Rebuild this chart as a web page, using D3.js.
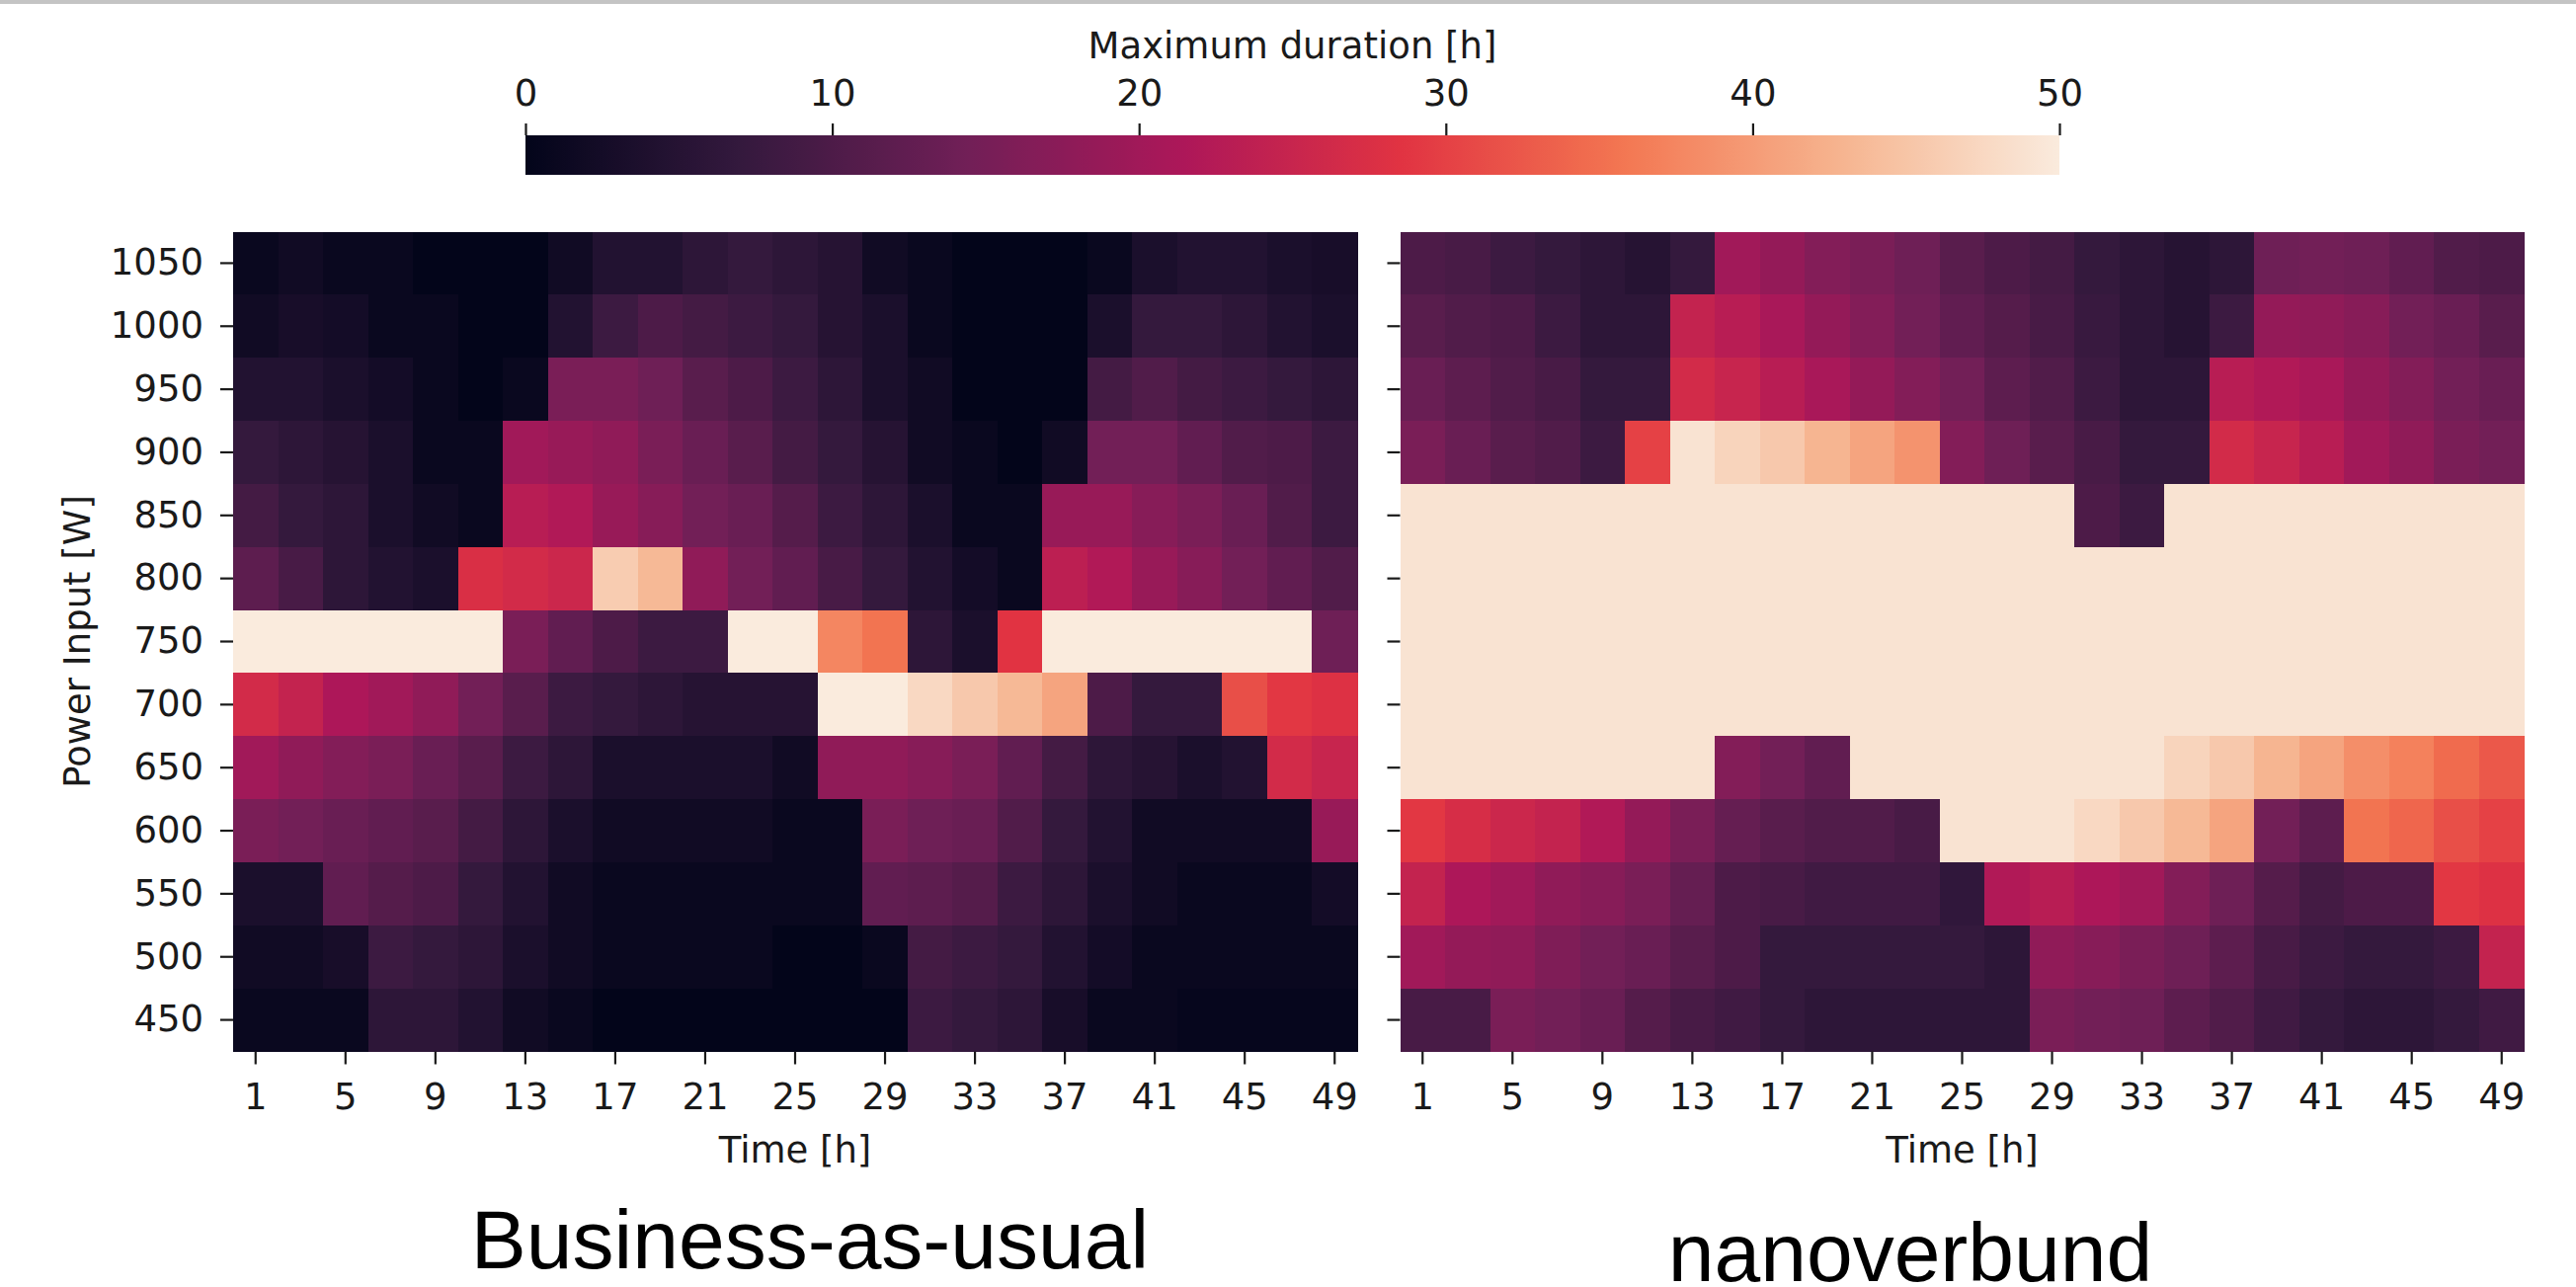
<!DOCTYPE html>
<html><head><meta charset="utf-8">
<script src="https://cdn.jsdelivr.net/npm/d3@7"></script>
<style>body{margin:0;background:#fff}svg{display:block}</style>
</head><body>
<svg id="c" width="2608" height="1303"></svg>
<script>
// ---------------- data ----------------
const timeLabels = [1,3,5,7,9,11,13,15,17,19,21,23,25,27,29,31,33,35,37,39,41,43,45,47,49];
const powerLevels = [1050,1000,950,900,850,800,750,700,650,600,550,500,450];
const cbarTicks = [0,10,20,30,40,50];

// Business-as-usual: maximum duration [h], rows = powerLevels, cols = timeLabels
const bauValues = [
  [1,2,1,1,0,0,0,2,4.5,4.5,6,7,6,5,2,1,0,0,0,1,3.5,4.5,4.5,3.5,3],
  [2,3,2.5,1,1,0,0,4.5,8,10,9,8,7,5,3.5,1,0,0,0,3.5,7,7,6,4.5,3.5],
  [4.5,4.5,3.5,2.5,1,0,1,15.5,15.5,14,11.5,10,8,6,3.5,2,0,0,0,9,10.5,9,8,7,6],
  [7,6,5,3.5,1,1,20,19,18,15.5,13.5,11.5,9,7,5,2,1,0,2,14.5,14.5,12.5,10.5,10,8],
  [9,7,6,3.5,2,1,23,22,19,17,14.5,13.5,11,8,6,3.5,1,1,19,19,17,15.5,13.5,10.5,8],
  [12,9.5,6,4.5,3.5,27.5,26.5,25.5,46,43.5,18,14.5,12.5,9.5,7,4.5,2.5,1,23.5,22,19,17,14.5,12.5,10.5],
  [50,50,50,50,50,50,15.5,12.5,10,8,8,50,50,37.5,35.5,6,3.5,28.6,50,50,50,50,50,50,14],
  [26.5,24.5,21.5,20,18,14.5,11.5,8,7,6,5,5,5,50,50,47.5,45.5,43.5,41,10,7,7,31.5,29,28],
  [20,18,16.5,15.5,13.5,11.5,8,6,3.5,3.5,3.5,3.5,2,18,18,17,15.5,12.5,9,6,5,3.5,4.5,26.5,25],
  [15.5,14.5,13.5,12.5,11.5,9,6,3.5,2,2,2,2,1,1,15.5,14,13.5,10.5,7,4.5,2,2,2,2,19],
  [3.5,3.5,12.5,11,10,7,4.5,2,1,1,1,1,1,1,12.5,12,11,8,6,3.5,2,1,1,1,2.5],
  [2,2,3,8,7,6,3.5,2,1,1,1,1,0,0,1,9,8,7,4.5,2.5,1,1,1,1,1],
  [1,1,1,6,6,4.5,2,1,0,0,0,0,0,0,0,8,7,6,3,1,1,0.5,0.5,0.5,0.5]
];

// nanoverbund: maximum duration [h]
const nanoValues = [
  [10,9.5,8,7,6,5,7,20,18.5,16.5,15.5,14,11.5,10,9,7,6,5,6,14,14.5,14,12.5,10.5,10],
  [11.5,10.5,10,8,6,6,24.5,23,21,18.5,16.5,14.5,12.5,11,9.5,7.5,6,5,8,18.5,18,17,14.5,13.5,11.5],
  [13.5,12,10.5,9.5,7,7,26.5,25,23,21,18.5,16.5,14.5,12,10.5,8,6,6,23,22,21,18.5,16.5,14.5,13.5],
  [15.5,13.5,11.5,10.5,8,30,49,47,45.5,43,41,39,16.5,14,11.5,9.5,7,7,26.5,25,23,20,18,15.5,14.5],
  [49,49,49,49,49,49,49,49,49,49,49,49,49,49,49,10,8,49,49,49,49,49,49,49,49],
  [49,49,49,49,49,49,49,49,49,49,49,49,49,49,49,49,49,49,49,49,49,49,49,49,49],
  [49,49,49,49,49,49,49,49,49,49,49,49,49,49,49,49,49,49,49,49,49,49,49,49,49],
  [49,49,49,49,49,49,49,49,49,49,49,49,49,49,49,49,49,49,49,49,49,49,49,49,49],
  [49,49,49,49,49,49,49,16.5,14.5,12.5,49,49,49,49,49,49,49,47,45.5,43,41,38.5,37,34.5,32.5],
  [29,27,25.5,24.5,22,18.5,15.5,13,11.5,10.5,10.5,9.5,49,49,49,47.5,45.5,43.5,41,14.5,12,35.5,34,31.5,30],
  [24.5,21.5,20,18,17,15.5,13,10,9.5,8.5,8.5,8.5,6.5,22,23,21.5,20,16.5,14,11,9,10,10,29,28],
  [20,18.5,18,16,14.5,13.5,11.5,10,7,7,7,7,7,6,18,17,15.5,14,12,9.5,8,7,7,8,24.5],
  [9.5,9.5,15.5,14.5,13.5,11,9.5,8.5,7,6,6,6,6,6,15.5,14.5,14,12,10.5,8.5,7,6,6,7,8.5]
];

// seaborn "rocket" colormap control points
const rocketPos = [0, 0.143, 0.286, 0.429, 0.571, 0.714, 0.857, 1];
const rocketHex = ["#03051a","#35193e","#701f57","#ad1759","#e13342","#f37651","#f6b48f","#faebdd"];

// ---------------- drawing ----------------
const svg = d3.select("#c");
const font = "'DejaVu Sans', sans-serif";
const textCol = "#1a1a1a";

svg.append("rect").attr("x",0).attr("y",0).attr("width",2608).attr("height",4).attr("fill","#c4c4c4");

const vmin = 0, vmax = 50;
const color = d3.scaleLinear()
  .domain(rocketPos.map(p => vmin + p*(vmax-vmin)))
  .range(rocketHex)
  .interpolate(d3.interpolateRgb)
  .clamp(true);

const plotTop = 234.5, plotBottom = 1064.5, panelW = 1138;
const panels = [
  {x0: 236, values: bauValues, labels: true, title: "Business-as-usual", tx: 820, ty: 1284},
  {x0: 1417.5, values: nanoValues, labels: false, title: "nanoverbund", tx: 1934, ty: 1297}
];

panels.forEach(p => {
  const x = d3.scaleBand().domain(timeLabels).range([p.x0, p.x0 + panelW]);
  const y = d3.scaleBand().domain(powerLevels).range([plotTop, plotBottom]);
  const g = svg.append("g");
  const cells = [];
  powerLevels.forEach((pw, i) => timeLabels.forEach((t, j) => cells.push({pw, t, v: p.values[i][j]})));
  g.selectAll("rect").data(cells).enter().append("rect")
    .attr("x", d => x(d.t))
    .attr("y", d => y(d.pw))
    .attr("width", x.bandwidth() + 0.6)
    .attr("height", y.bandwidth() + 0.6)
    .attr("fill", d => color(d.v))
    .attr("shape-rendering", "crispEdges");

  // y axis
  const ya = svg.append("g").attr("transform", `translate(${p.x0},0)`)
    .call(d3.axisLeft(y).tickSize(13).tickPadding(17).tickFormat(p.labels ? d => d : () => ""));
  ya.select(".domain").remove();
  ya.selectAll("line").attr("stroke", textCol).attr("stroke-width", 2.2);
  ya.selectAll("text").attr("font-family", font).attr("font-size", 37).attr("fill", textCol);

  // x axis
  const xa = svg.append("g").attr("transform", `translate(0,${plotBottom})`)
    .call(d3.axisBottom(x).tickValues(timeLabels.filter((d, i) => i % 2 === 0)).tickSize(13).tickPadding(19));
  xa.select(".domain").remove();
  xa.selectAll("line").attr("stroke", textCol).attr("stroke-width", 2.2);
  xa.selectAll("text").attr("font-family", font).attr("font-size", 37).attr("fill", textCol);

  svg.append("text").attr("x", p.x0 + panelW/2).attr("y", 1177)
    .attr("text-anchor", "middle").attr("font-family", font).attr("font-size", 37).attr("fill", textCol)
    .text("Time [h]");

  svg.append("text").attr("x", p.tx).attr("y", p.ty)
    .attr("text-anchor", "middle").attr("font-family", "'Liberation Sans', Arial, sans-serif")
    .attr("font-size", 84).attr("fill", "#000").text(p.title);
});

// y label
svg.append("text").attr("transform", "translate(91,649.5) rotate(-90)")
  .attr("text-anchor", "middle").attr("font-family", font).attr("font-size", 37).attr("fill", textCol)
  .text("Power Input [W]");

// colorbar
const cb = d3.scaleLinear().domain([vmin, vmax]).range([532, 2085]);
const defs = svg.append("defs");
const grad = defs.append("linearGradient").attr("id", "rocketGrad").attr("x1", "0%").attr("x2", "100%");
d3.range(0, 101).forEach(i => {
  grad.append("stop").attr("offset", i + "%").attr("stop-color", color(vmin + i/100*(vmax-vmin)));
});
svg.append("rect").attr("x", cb(vmin)).attr("y", 137).attr("width", cb(vmax) - cb(vmin)).attr("height", 40)
  .attr("fill", "url(#rocketGrad)");
const ca = svg.append("g").attr("transform", "translate(0,137)")
  .call(d3.axisTop(cb).tickValues(cbarTicks).tickSize(12).tickPadding(18));
ca.select(".domain").remove();
ca.selectAll("line").attr("stroke", textCol).attr("stroke-width", 2.2);
ca.selectAll("text").attr("font-family", font).attr("font-size", 37).attr("fill", textCol);
svg.append("text").attr("x", (cb(vmin)+cb(vmax))/2).attr("y", 59)
  .attr("text-anchor", "middle").attr("font-family", font).attr("font-size", 37).attr("fill", textCol)
  .text("Maximum duration [h]");
</script>
</body></html>
